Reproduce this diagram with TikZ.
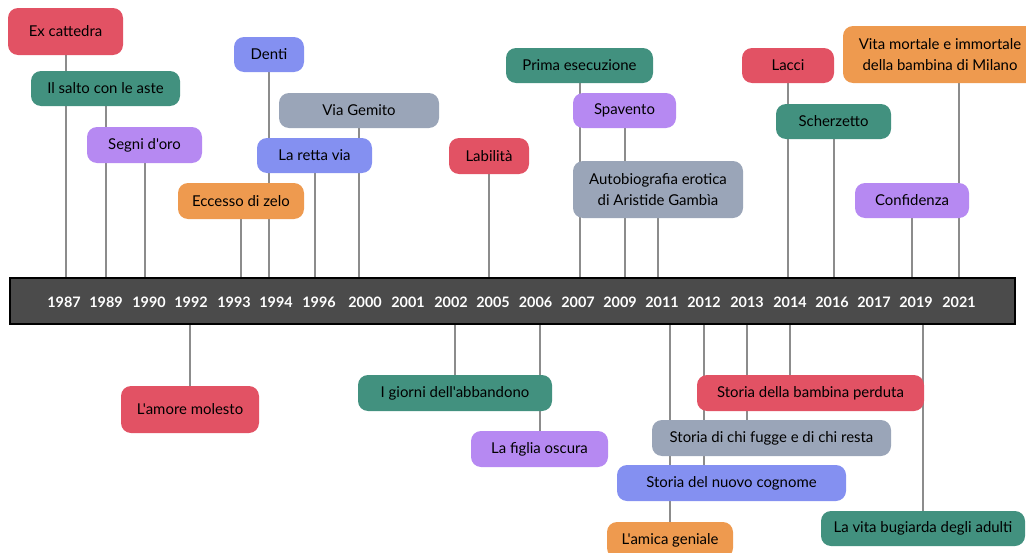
\documentclass[tikz,border=0pt]{standalone}
\usepackage{fontspec}
\setmainfont{Lato}[Ligatures=TeXOff]
\usepackage{tikz}
\usetikzlibrary{backgrounds}

\definecolor{bkred}{HTML}{E25264}
\definecolor{bkteal}{HTML}{42917F}
\definecolor{bkpurple}{HTML}{B689F2}
\definecolor{bkblue}{HTML}{8490F1}
\definecolor{bkgrey}{HTML}{9AA5B8}
\definecolor{bkorange}{HTML}{EE9A4F}
\definecolor{barfill}{HTML}{4B4B4B}
\definecolor{linkgrey}{HTML}{8C8C8C}

\begin{document}
\begin{tikzpicture}[x=0.75pt, y=-0.75pt,
    book/.style={rounded corners=7.5pt, inner sep=0pt, align=center, text=black,
        font=\fontsize{11.2}{15.7}\selectfont},
    dims/.style 2 args={minimum width=#1*0.75pt, minimum height=#2*0.75pt},
    year/.style={text=white, font=\bfseries\fontsize{10.8}{12}\selectfont},
    link/.style={draw=linkgrey, line width=1.5pt}]
    \useasboundingbox (0,0) rectangle (1026,553);
    \clip (0,0) rectangle (1026,553);

    % The timeline bar with its years
    \node[draw=black, line width=1.5pt, fill=barfill, dims={1005}{46}] (bar) at (512.5,301) {};
    \foreach \yr/\xx in {1987/64, 1989/106, 1990/149, 1992/191, 1993/234, 1994/276,
        1996/319, 2000/365, 2001/408, 2002/451, 2005/493, 2006/535.5, 2007/578,
        2009/620, 2011/662, 2012/704, 2013/747, 2014/790, 2016/832, 2017/874,
        2019/916, 2021/959}
        \node[year] (y\yr) at (\xx,302) {\yr};

    % Books above the bar
    \node[book, fill=bkred, dims={115}{47}] (excat) at (65.5,31.5) {Ex cattedra};
    \node[book, fill=bkteal, dims={149}{35}] (salto) at (105.5,88.5) {Il salto con le aste};
    \node[book, fill=bkpurple, dims={115}{36}] (segni) at (144.5,145) {Segni d'oro};
    \node[book, fill=bkblue, dims={70}{35}] (denti) at (269,54.5) {Denti};
    \node[book, fill=bkgrey, dims={160}{35}] (gemito) at (359,110.5) {Via Gemito};
    \node[book, fill=bkblue, dims={115}{35}] (retta) at (314.5,155.5) {La retta via};
    \node[book, fill=bkorange, dims={126}{36}] (zelo) at (241,201) {Eccesso di zelo};
    \node[book, fill=bkred, dims={80}{36}] (labil) at (489,156) {Labilità};
    \node[book, fill=bkteal, dims={147}{35}] (prima) at (579.5,65.5) {Prima esecuzione};
    \node[book, fill=bkpurple, dims={103}{35}] (spav) at (624.5,110.5) {Spavento};
    \node[book, fill=bkgrey, dims={170}{57}] (auto) at (658,189.5) {Autobiografia erotica\\di Aristide Gambìa};
    \node[book, fill=bkred, dims={92}{35}] (lacci) at (788,65.5) {Lacci};
    \node[book, fill=bkteal, dims={115}{35}] (scherz) at (833.5,121.5) {Scherzetto};
    \node[book, fill=bkorange, dims={194}{57}] (vita) at (940,54.5) {Vita mortale e immortale\\della bambina di Milano};
    \node[book, fill=bkpurple, dims={114}{35}] (confid) at (912,200.5) {Confidenza};

    % Books below the bar
    \node[book, fill=bkred, dims={138}{47}] (amore) at (190,409.5) {L'amore molesto};
    \node[book, fill=bkteal, dims={194}{36}] (giorni) at (455,393) {I giorni dell'abbandono};
    \node[book, fill=bkpurple, dims={137}{36}] (figlia) at (539.5,449) {La figlia oscura};
    \node[book, fill=bkred, dims={227}{36}] (perduta) at (810.5,393) {Storia della bambina perduta};
    \node[book, fill=bkgrey, dims={239}{36}] (fugge) at (771.5,438) {Storia di chi fugge e di chi resta};
    \node[book, fill=bkblue, dims={229}{36}] (cognome) at (731.5,483) {Storia del nuovo cognome};
    \node[book, fill=bkorange, dims={126}{36}] (amica) at (670,540) {L'amica geniale};
    \node[book, fill=bkteal, dims={204}{35}] (bugiarda) at (923,528.5) {La vita bugiarda degli adulti};

    % Connectors, kept behind the boxes
    \begin{scope}[on background layer]
        \foreach \b in {excat, salto, segni, denti, gemito, retta, zelo, labil,
            prima, spav, auto, lacci, scherz, confid}
            \draw[link] (\b.south) -- (\b.south |- bar.north);
        \draw[link] (vita.south -| y2021) -- (y2021 |- bar.north);
        \foreach \b in {amore, giorni, figlia, amica, bugiarda}
            \draw[link] (\b.north) -- (\b.north |- bar.south);
        \draw[link] (perduta.north -| y2014) -- (y2014 |- bar.south);
        \draw[link] (fugge.north -| y2013) -- (y2013 |- bar.south);
        \draw[link] (cognome.north -| y2012) -- (y2012 |- bar.south);
    \end{scope}
\end{tikzpicture}
\end{document}
